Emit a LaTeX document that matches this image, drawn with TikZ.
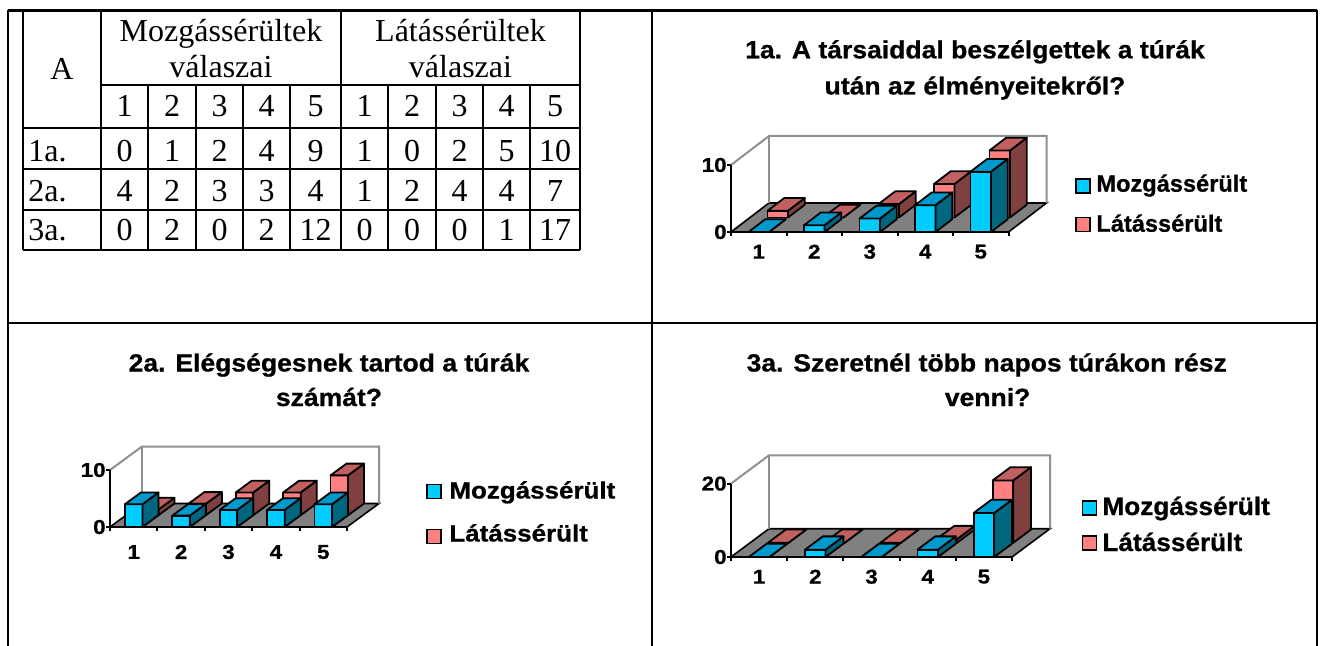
\documentclass[tikz,border=0pt]{standalone}
\usepackage{fontspec}
\setmainfont{Liberation Serif}
\newfontfamily\arialf{Liberation Sans}[BoldFeatures={FakeBold=0.7}]
\usepackage{graphicx}
\definecolor{cyF}{HTML}{00CCFF}
\definecolor{cyT}{HTML}{0099CC}
\definecolor{cyS}{HTML}{006680}
\definecolor{pkF}{HTML}{FF8080}
\definecolor{pkT}{HTML}{C06060}
\definecolor{pkS}{HTML}{804040}
\definecolor{floorc}{HTML}{808080}
\definecolor{wallc}{HTML}{909090}
\newcommand{\tabfont}{\fontsize{16}{19}\selectfont}
\newcommand{\ttlfont}{\arialf\bfseries\fontsize{12.4}{14}\selectfont}
\newcommand{\legfont}{\arialf\bfseries\fontsize{11.8}{14}\selectfont}
\newcommand{\axfont}{\arialf\bfseries\fontsize{10}{12}\selectfont}
\newcommand{\hs}[2]{\scalebox{#1}[1]{#2}}
\newcommand{\tabrow}[4]{%
  \node[tcell, anchor=base west] (#1) at (28,#3) {#2};
  \foreach \v [count=\i] in {#4} {
    \pgfmathsetmacro{\tcx}{{124.5,172,219.5,266.5,315.5,364.5,412,459.5,506.5,555}[\i-1]}
    \node[tcell] (#1-\i) at (\tcx,#3) {\v};
  }}
\newcommand{\barsrow}[5]{%
  \foreach \bv [count=\bi] in {#2} {
    \pgfmathsetmacro{\bxa}{\cOx+(\bi-0.5)*\cCw-\cBw/2+#1*0.5*\cDx}
    \pgfmathsetmacro{\bxb}{\bxa+\cBw}
    \pgfmathsetmacro{\byb}{\cOy-#1*0.5*\cDy}
    \pgfmathsetmacro{\byt}{\byb-\bv*\cSc}
    \pgfmathsetmacro{\bdx}{\cDf*\cDx}
    \pgfmathsetmacro{\bdy}{\cDf*\cDy}
    \filldraw[barl, fill=#3] (\bxa,\byb) rectangle (\bxb,\byt);
    \filldraw[barl, fill=#5] (\bxb,\byb) -- (\bxb+\bdx,\byb-\bdy) -- (\bxb+\bdx,\byt-\bdy) -- (\bxb,\byt) -- cycle;
    \filldraw[barl, fill=#4] (\bxa,\byt) -- (\bxb,\byt) -- (\bxb+\bdx,\byt-\bdy) -- (\bxa+\bdx,\byt-\bdy) -- cycle;
  }}
\newcommand{\chartbase}{%
  \pgfmathsetmacro{\cLx}{\cOx+5*\cCw}
  \filldraw[fill=floorc, draw=black, line width=0.8pt] (\cOx,\cOy) -- (\cLx,\cOy) -- (\cLx+\cDx,\cOy-\cDy) -- (\cOx+\cDx,\cOy-\cDy) -- cycle;
  \draw[wall] (\cOx,\cOy-\cH) -- (\cOx+\cDx,\cOy-\cDy-\cH) -- (\cLx+\cDx,\cOy-\cDy-\cH) -- (\cLx+\cDx,\cOy-\cDy);
  \draw[wall] (\cOx+\cDx,\cOy-\cDy) -- (\cOx+\cDx,\cOy-\cDy-\cH);
  \draw[axl] (\cOx,\cOy-\cH) -- (\cOx,\cOy) -- (\cLx,\cOy);
  \foreach \k in {0,...,5} \draw[axl] (\cOx+\k*\cCw,\cOy) -- ++(0,4);
  \draw[axl] (\cOx,\cOy) -- ++(-4,0) (\cOx,\cOy-\cH) -- ++(-4,0);
}
\newcommand{\chartlabels}[3]{% #1 prefix, #2 max label, #3 x-label offset
  \node[axlab, anchor=east] (#1y0) at (\cOx-4,\cOy) {\hs{1.12}{0}};
  \node[axlab, anchor=east] (#1ym) at (\cOx-4,\cOy-\cH) {\hs{1.12}{#2}};
  \foreach \k in {1,...,5} \node[axlab] (#1x\k) at (\cOx+\k*\cCw-0.5*\cCw,\cOy+#3) {\hs{1.12}{\k}};
}
\begin{document}
\begin{tikzpicture}[x=0.5pt,y=-0.5pt,
  gridline/.style={line width=1.3pt, black},
  tline/.style={line width=1.1pt, black},
  wall/.style={draw=wallc, line width=1pt},
  axl/.style={line width=1pt, black},
  barl/.style={draw=black, line width=0.9pt, line join=round},
  tcell/.style={anchor=base, inner sep=0pt, font=\tabfont},
  ttl/.style={anchor=base, inner sep=0pt, font=\ttlfont},
  axlab/.style={inner sep=0pt, font=\axfont},
  legsq/.style={draw=black, line width=0.75pt, minimum size=7pt, inner sep=0pt, anchor=north west},
  legt/.style={anchor=base west, inner sep=0pt}]
\useasboundingbox (0,0) rectangle (1325,646);
\fill[white] (0,0) rectangle (1325,646);
% outer grid
\draw[gridline] (8,10.5) -- (1317,10.5);
\draw[gridline] (8,10.5) -- (8,646);
\draw[gridline] (652,10.5) -- (652,646);
\draw[gridline] (1317,10.5) -- (1317,646);
\draw[gridline] (8,323) -- (1317,323);
% table lines
\draw[tline] (23,10.5) -- (23,250);
\draw[tline] (101,10.5) -- (101,250);
\draw[tline] (341,10.5) -- (341,250);
\draw[tline] (580,10.5) -- (580,250);
\foreach \x in {148,196,243,290,388,436,483,530} \draw[tline] (\x,85) -- (\x,250);
\draw[tline] (101,85) -- (580,85);
\foreach \y in {128.3,169.3,210,250} \draw[tline] (23,\y) -- (580,\y);
% table text
\node[tcell] (hA) at (62,80) {A};
\node[tcell] (hM1) at (221,41.7) {Mozgássérültek};
\node[tcell] (hM2) at (221,77.3) {válaszai};
\node[tcell] (hL1) at (460.5,41.7) {Látássérültek};
\node[tcell] (hL2) at (460.5,77.3) {válaszai};
\foreach \t [count=\i] in {1,2,3,4,5,1,2,3,4,5} {
  \pgfmathsetmacro{\tcx}{{124.5,172,219.5,266.5,315.5,364.5,412,459.5,506.5,555}[\i-1]}
  \node[tcell] (hd\i) at (\tcx,117) {\t};
}
\tabrow{r1}{1a.}{161.7}{0,1,2,4,9,1,0,2,5,10}
\tabrow{r2}{2a.}{201.7}{4,2,3,3,4,1,2,4,4,7}
\tabrow{r3}{3a.}{240.7}{0,2,0,2,12,0,0,0,1,17}
% ---------- chart 1
\def\cOx{731}\def\cOy{232}\def\cCw{55.5}\def\cSc{6.7}\def\cH{67}\def\cDx{38}\def\cDy{29}\def\cBw{20.5}\def\cDf{0.44}
\chartbase
\barsrow{1}{1,0,2,5,10}{pkF}{pkT}{pkS}
\barsrow{0}{0,1,2,4,9}{cyF}{cyT}{cyS}
\chartlabels{c1}{10}{19.7}
\node[ttl] (t1a) at (975,58.3) {\hs{1.07}{1a. A társaiddal beszélgettek a túrák}};
\node[ttl] (t1b) at (975,94.5) {\hs{1.07}{után az élményeitekről?}};
\node[legsq, fill=cyF] (l1m) at (1075,178.5) {};
\node[legsq, fill=pkF] (l1l) at (1075,217) {};
\node[legt, font=\legfont] (l1mt) at (1096,191.7) {Mozgássérült};
\node[legt, font=\legfont] (l1lt) at (1096,231.7) {Látássérült};
% ---------- chart 2
\def\cOx{110}\def\cOy{527}\def\cCw{47.4}\def\cSc{5.7}\def\cH{57}\def\cDx{32}\def\cDy{23.5}\def\cBw{17.5}\def\cDf{0.5}
\chartbase
\barsrow{1}{1,2,4,4,7}{pkF}{pkT}{pkS}
\barsrow{0}{4,2,3,3,4}{cyF}{cyT}{cyS}
\chartlabels{c2}{10}{25}
\node[ttl] (t2a) at (329,371.5) {\hs{1.07}{2a. Elégségesnek tartod a túrák}};
\node[ttl] (t2b) at (329,406) {\hs{1.07}{számát?}};
\node[legsq, fill=cyF] (l2m) at (426,483.5) {};
\node[legsq, fill=pkF] (l2l) at (426,528.5) {};
\node[legt, font=\legfont] (l2mt) at (449,498.5) {\hs{1.1}{Mozgássérült}};
\node[legt, font=\legfont] (l2lt) at (449,541.5) {\hs{1.1}{Látássérült}};
% ---------- chart 3
\def\cOx{731}\def\cOy{557}\def\cCw{56.2}\def\cSc{3.67}\def\cH{73.4}\def\cDx{38}\def\cDy{28.3}\def\cBw{20.5}\def\cDf{0.47}
\chartbase
\barsrow{1}{0,0,0,1,17}{pkF}{pkT}{pkS}
\barsrow{0}{0,2,0,2,12}{cyF}{cyT}{cyS}
\chartlabels{c3}{20}{19.7}
\node[ttl] (t3a) at (986.7,371.5) {\hs{1.07}{3a. Szeretnél több napos túrákon rész}};
\node[ttl] (t3b) at (987.6,406) {\hs{1.07}{venni?}};
\node[legsq, fill=cyF] (l3m) at (1081.5,500) {};
\node[legsq, fill=pkF] (l3l) at (1081.5,535) {};
\node[legt, font=\arialf\bfseries\fontsize{12.6}{14}\selectfont] (l3mt) at (1102,515) {\hs{1.04}{Mozgássérült}};
\node[legt, font=\arialf\bfseries\fontsize{12.6}{14}\selectfont] (l3lt) at (1102,551) {\hs{1.04}{Látássérült}};
\end{tikzpicture}
\end{document}
